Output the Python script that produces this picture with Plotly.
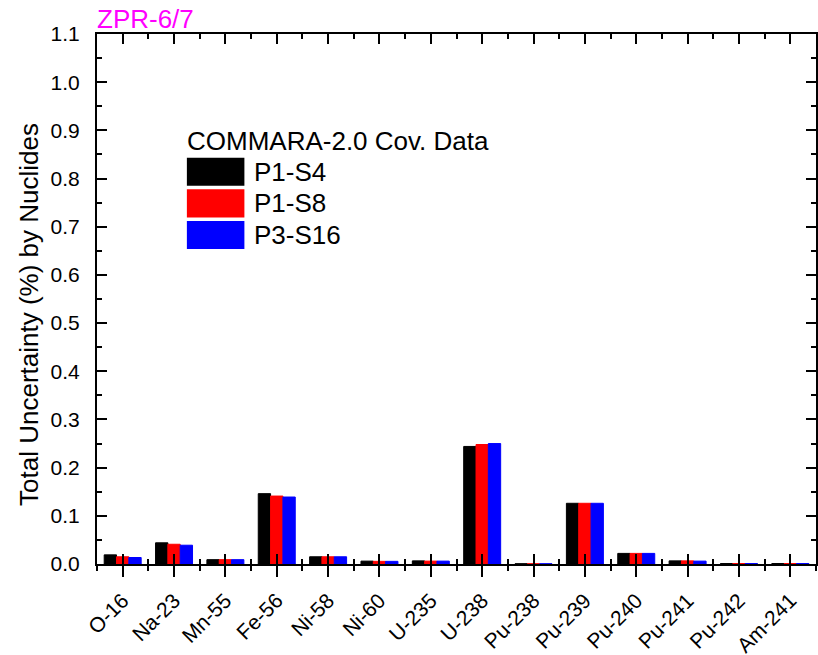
import plotly.graph_objects as go

# Nuclide categories and total uncertainty (%) per covariance set
nuclides = ["O-16", "Na-23", "Mn-55", "Fe-56", "Ni-58", "Ni-60", "U-235",
            "U-238", "Pu-238", "Pu-239", "Pu-240", "Pu-241", "Pu-242", "Am-241"]
p1_s4 = [0.019, 0.044, 0.009, 0.146, 0.015, 0.006, 0.0065,
         0.244, 0.0005, 0.126, 0.022, 0.0065, 0.001, 0.001]
p1_s8 = [0.015, 0.041, 0.009, 0.141, 0.015, 0.0055, 0.006,
         0.248, 0.0005, 0.126, 0.022, 0.0065, 0.001, 0.001]
p3_s16 = [0.0135, 0.039, 0.009, 0.139, 0.015, 0.0055, 0.006,
          0.250, 0.0005, 0.126, 0.022, 0.006, 0.001, 0.001]

series_names = ["P1-S4", "P1-S8", "P3-S16"]
series_values = [p1_s4, p1_s8, p3_s16]
series_colors = ["#000000", "#FF0000", "#0000FF"]

y_ticks = [round(0.1 * i, 1) for i in range(12)]

FONT = "Liberation Sans, Arial, sans-serif"
idx = list(range(len(nuclides)))
half = [i + 0.5 for i in range(-1, len(nuclides))]

fig = go.Figure()
for name, vals, col in zip(series_names, series_values, series_colors):
    fig.add_trace(go.Bar(
        x=idx, y=vals, name=name,
        marker=dict(color=col, line=dict(color=col, width=1)),
        showlegend=False,
    ))

axis_common = dict(showline=True, linecolor="black", linewidth=2,
                   showgrid=False, zeroline=False, tickcolor="black",
                   tickwidth=2, automargin=False)

fig.update_layout(
    width=818, height=655,
    margin=dict(l=97, r=2, t=34, b=91),
    paper_bgcolor="white", plot_bgcolor="white",
    barmode="group", bargap=0.28, bargroupgap=0,
    font=dict(family=FONT, color="black", size=21),
    xaxis=dict(
        **axis_common,
        range=[-0.5, len(nuclides) - 0.5],
        tickmode="array", tickvals=idx, ticktext=nuclides,
        ticks="outside", ticklen=11, tickangle=-45,
        ticklabelstandoff=3,
        tickfont=dict(family=FONT, size=21),
        minor=dict(tickmode="array", tickvals=half, ticks="outside",
                   ticklen=5, tickwidth=2, tickcolor="black"),
        mirror=False,
    ),
    xaxis2=dict(
        **axis_common,
        overlaying="x", anchor="y", side="bottom",
        matches="x",
        range=[-0.5, len(nuclides) - 0.5],
        tickmode="array", tickvals=idx, ticks="inside", ticklen=10,
        showticklabels=False,
        minor=dict(tickmode="array", tickvals=half, ticks="inside",
                   ticklen=5, tickwidth=2, tickcolor="black"),
        mirror="ticks",
    ),
    yaxis=dict(
        **axis_common,
        range=[0, 1.1],
        tickmode="array", tickvals=y_ticks,
        ticktext=[f"{v:.1f}" for v in y_ticks],
        ticks="inside", ticklen=10,
        ticklabelstandoff=11,
        tickfont=dict(family=FONT, size=21),
        minor=dict(dtick=0.05, tick0=0, ticks="inside", ticklen=5,
                   tickwidth=2, tickcolor="black"),
        mirror="ticks",
    ),
)

# keep the overlay axis alive with an empty trace
fig.add_trace(go.Scatter(x=[None], y=[None], xaxis="x2", mode="markers",
                         showlegend=False, hoverinfo="skip"))

# Title and y-axis label
fig.add_annotation(text="ZPR-6/7", xref="paper", yref="paper", x=0, y=1,
                   xanchor="left", yanchor="bottom", showarrow=False,
                   xshift=-2, yshift=-2,
                   font=dict(family=FONT, size=26, color="#FF00FF"))
fig.add_annotation(text="Total Uncertainty (%) by Nuclides", xref="paper",
                   yref="paper", x=0, y=0.47, xshift=-68, textangle=-90,
                   xanchor="center", yanchor="middle", showarrow=False,
                   font=dict(family=FONT, size=26, color="black"))

# Legend block: heading plus one swatch row per series
leg_x0, leg_sw, leg_tx = 0.125, 0.080, 0.215
leg_row0, leg_dy, leg_h = 0.740, 0.0596, 0.053
fig.add_annotation(text="COMMARA-2.0 Cov. Data", xref="paper", yref="paper",
                   x=leg_x0 - 0.002, y=leg_row0 + leg_dy * 0.97,
                   xanchor="left", yanchor="middle", showarrow=False,
                   font=dict(family=FONT, size=26, color="black"))
for k, (name, col) in enumerate(zip(series_names, series_colors)):
    yc = leg_row0 - k * leg_dy
    fig.add_shape(type="rect", xref="paper", yref="paper",
                  x0=leg_x0, x1=leg_x0 + leg_sw,
                  y0=yc - leg_h / 2, y1=yc + leg_h / 2,
                  fillcolor=col, line=dict(color=col, width=0))
    fig.add_annotation(text=name, xref="paper", yref="paper",
                       x=leg_tx, y=yc, xanchor="left", yanchor="middle",
                       showarrow=False,
                       font=dict(family=FONT, size=26, color="black"))

fig.write_html("out.html")
